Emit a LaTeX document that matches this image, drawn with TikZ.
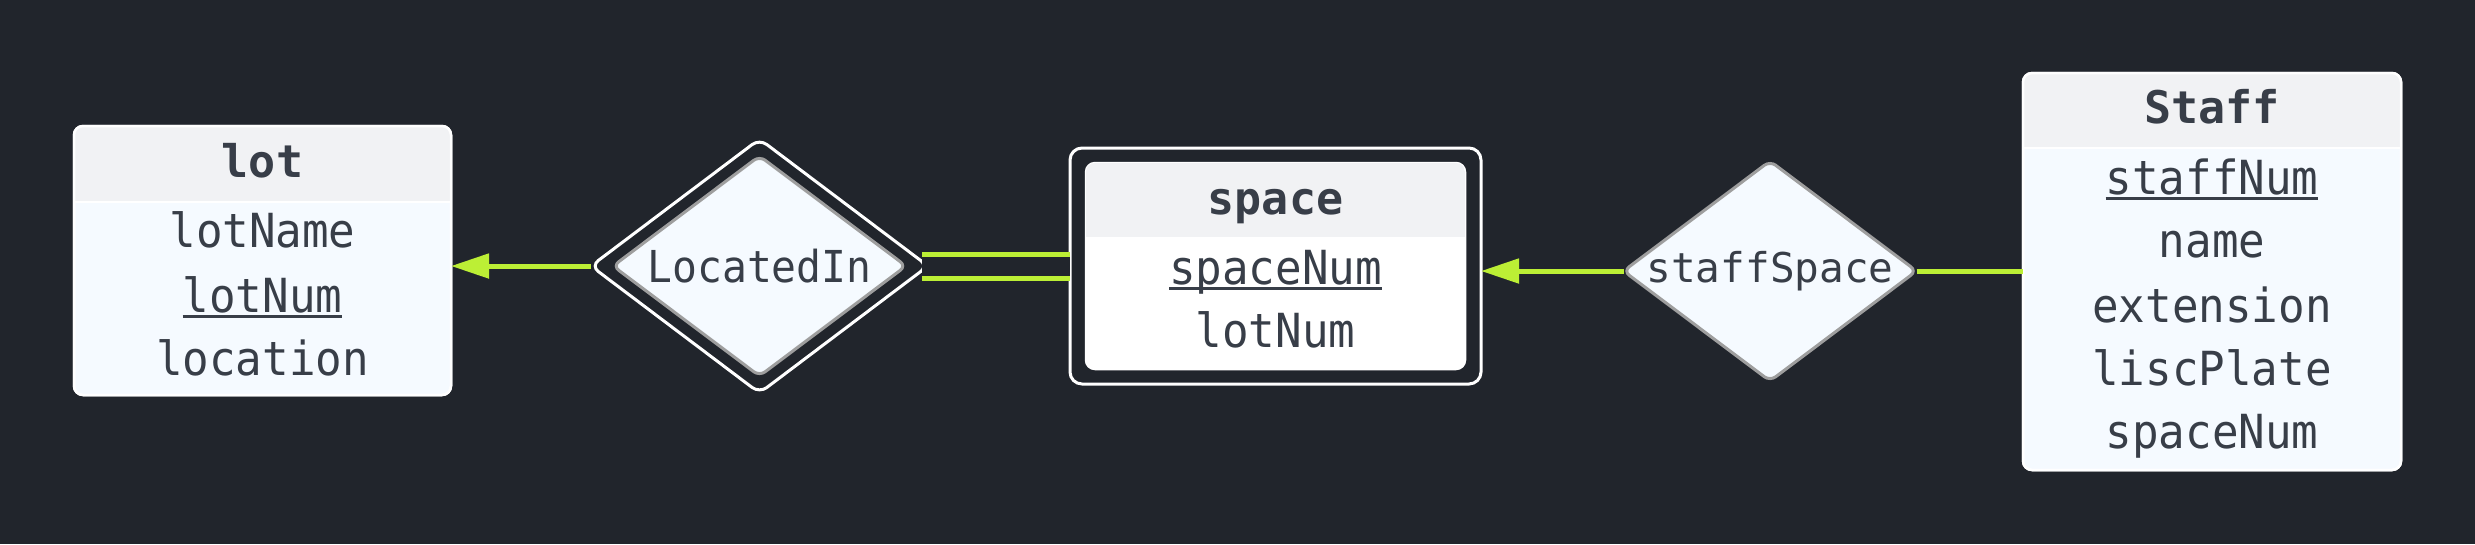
\documentclass[tikz,border=0pt]{standalone}
\usepackage{fontspec}
\newfontfamily\ermono{DejaVu Sans Mono}[FakeStretch=0.94]
\newfontfamily\erwide{DejaVu Sans Mono}
\usetikzlibrary{shapes.geometric,arrows.meta,calc}
\definecolor{bgc}{HTML}{21252C}
\definecolor{hdr}{HTML}{F1F2F4}
\definecolor{bodyc}{HTML}{F5FAFF}
\definecolor{txt}{HTML}{383E48}
\definecolor{lime}{HTML}{BCEF35}
\definecolor{dgray}{HTML}{9E9E9E}
\newcommand\keyattr[1]{\setbox0\hbox{#1}\rlap{\copy0}\rule[-1.7pt]{\wd0}{0.8pt}}
\tikzset{
  entbody/.style={rectangle, rounded corners=0.9mm, fill=bodyc, draw=white, line width=0.25mm, inner sep=0pt, outer sep=0pt},
  attr/.style={anchor=base, inner sep=0pt, text=txt, font=\ermono\fontsize{13.37pt}{16pt}\selectfont},
  etitle/.style={anchor=base, inner sep=0pt, text=txt, font=\erwide\bfseries\fontsize{12.8pt}{15pt}\selectfont},
  relshape/.style={draw=dgray, line width=0.3mm, fill=bodyc, rounded corners=0.7mm},
  reltext/.style={inner sep=0pt, text=txt},
  link/.style={draw=lime, line width=0.5mm},
  arr/.style={link, -{Triangle[length=3.8mm,width=2.4mm]}},
}
\begin{document}
\begin{tikzpicture}[x=0.1mm,y=-0.1mm]
\fill[bgc] (0,0) rectangle (2475,544);
\useasboundingbox (0,0) rectangle (2475,544);

% ---- lot entity
\node[entbody, minimum width=37.7mm, minimum height=26.9mm] (lot) at (262.5,260.5) {};
\begin{scope}
\clip[rounded corners=0.9mm] (lot.north west) rectangle (lot.south east);
\fill[hdr] (lot.north west) rectangle ($(lot.north east)+(0,76)$);
\end{scope}
\draw[white, line width=0.25mm] ($(lot.north west)+(0,76)$) -- ($(lot.north east)+(0,76)$);
\draw[white, line width=0.25mm, rounded corners=0.9mm] (lot.north west) rectangle (lot.south east);
\node[etitle] (lotT) at (262.5,177) {lot};
\node[attr] (lotA1) at (262.5,247) {lotName};
\node[attr] (lotA2) at (262.5,312) {\keyattr{lotNum}};
\node[attr] (lotA3) at (262.5,375) {location};

% ---- space weak entity
\node[rectangle, rounded corners=1.2mm, draw=white, line width=0.3mm, fill=bgc, inner sep=0pt, outer sep=0pt, minimum width=41.1mm, minimum height=23.6mm] (space) at (1275.5,266) {};
\node[entbody, fill=white, minimum width=37.9mm, minimum height=20.6mm] (spacein) at (1275.5,266) {};
\begin{scope}
\clip[rounded corners=0.9mm] (spacein.north west) rectangle (spacein.south east);
\fill[hdr] (spacein.north west) rectangle ($(spacein.north east)+(0,75)$);
\end{scope}
\draw[white, line width=0.25mm] ($(spacein.north west)+(0,75)$) -- ($(spacein.north east)+(0,75)$);
\node[etitle] (spaceT) at (1275.5,214) {space};
\node[attr] (spaceA1) at (1275.5,284) {\keyattr{spaceNum}};
\node[attr] (spaceA2) at (1275.5,347) {lotNum};

% ---- Staff entity
\node[entbody, minimum width=37.8mm, minimum height=39.7mm] (staff) at (2212,271.5) {};
\begin{scope}
\clip[rounded corners=0.9mm] (staff.north west) rectangle (staff.south east);
\fill[hdr] (staff.north west) rectangle ($(staff.north east)+(0,75)$);
\end{scope}
\draw[white, line width=0.25mm] ($(staff.north west)+(0,75)$) -- ($(staff.north east)+(0,75)$);
\draw[white, line width=0.25mm, rounded corners=0.9mm] (staff.north west) rectangle (staff.south east);
\node[etitle] (staffT) at (2212,123) {Staff};
\node[attr] (staffA1) at (2212,194) {\keyattr{staffNum}};
\node[attr] (staffA2) at (2212,257) {name};
\node[attr] (staffA3) at (2212,322) {extension};
\node[attr] (staffA4) at (2212,385) {liscPlate};
\node[attr] (staffA5) at (2212,448) {spaceNum};

% ---- LocatedIn identifying relationship (double diamond)
\coordinate (locinW) at (591,266);
\coordinate (locinE) at (928,266);
\draw[white, line width=0.3mm, fill=bgc, rounded corners=0.9mm]
  (locinW) -- (759.5,139) -- (locinE) -- (759.5,393) -- cycle;
\draw[relshape] (613,266) -- (759.5,156) -- (906,266) -- (759.5,376) -- cycle;
\node[reltext, font=\ermono\fontsize{12.52pt}{15pt}\selectfont] (locin) at (759.5,266) {LocatedIn};

% ---- staffSpace relationship
\coordinate (ssW) at (1623.5,271);
\coordinate (ssE) at (1916.5,271);
\draw[relshape] (ssW) -- (1770,161) -- (ssE) -- (1770,381) -- cycle;
\node[reltext, font=\erwide\fontsize{11.67pt}{14pt}\selectfont] (ss) at (1770,271) {staffSpace};

% ---- connectors
\draw[arr] (locinW) -- (locinW -| lot.east);
\draw[link, double=bgc, double distance=1.9mm] ([xshift=-0.6mm]locinE) -- (locinE -| space.west);
\draw[arr] (ssW) -- (ssW -| space.east);
\draw[link] (ssE) -- (ssE -| staff.west);
\end{tikzpicture}
\end{document}
